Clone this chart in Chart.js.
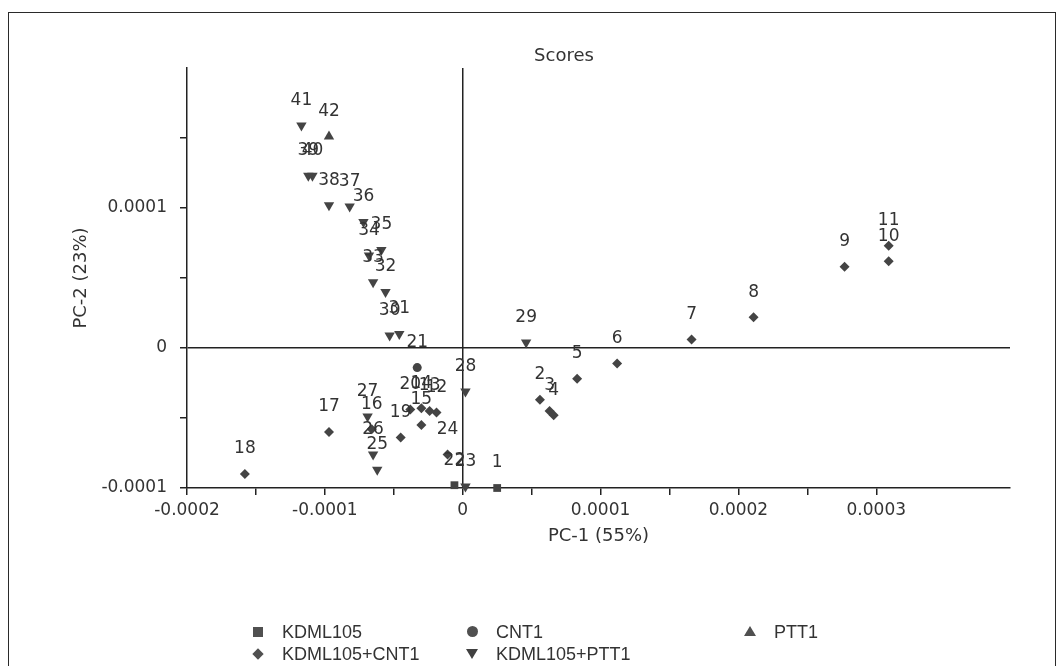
<!DOCTYPE html>
<html>
<head>
<meta charset="utf-8">
<script src="https://cdn.jsdelivr.net/npm/chart.js@4.4.1/dist/chart.umd.min.js"></script>
<style>
  body { margin: 0; background: #fff; font-family: "Liberation Sans", Arial, sans-serif; color: #333; }
  #wrap { position: relative; width: 1062px; height: 666px; overflow: hidden; }
  #frame { position: absolute; left: 8px; top: 12px; width: 1046px; height: 720px; border: 1.5px solid #2a2a2a; }
  #title { position: absolute; left: 564px; top: 44px; transform: translateX(-50%); font-family: "DejaVu Sans", sans-serif; font-size: 18px; }
  .item { position: absolute; font-size: 18px; line-height: 22px; }
  .mk { position: absolute; }
  .sq  { width: 10px; height: 10px; background: #505050; left: -29px; top: 6px; }
  .ci  { width: 11px; height: 11px; background: #505050; border-radius: 50%; left: -29px; top: 5px; }
  .tu  { width: 0; height: 0; border-left: 6px solid transparent; border-right: 6px solid transparent; border-bottom: 10px solid #505050; left: -30px; top: 5px; }
  .di  { width: 8px; height: 8px; background: #505050; transform: rotate(45deg); left: -28px; top: 7px; }
  .td  { width: 0; height: 0; border-left: 6px solid transparent; border-right: 6px solid transparent; border-top: 10px solid #404040; left: -30px; top: 6px; }
</style>
</head>
<body>
<div id="wrap">
  <canvas id="scores-chart"></canvas>
  <div id="frame"></div>
  <div id="title">Scores</div>
  <div class="item" style="left:282px; top:621px;"><span class="mk sq"></span>KDML105</div>
  <div class="item" style="left:496px; top:621px;"><span class="mk ci"></span>CNT1</div>
  <div class="item" style="left:774px; top:621px;"><span class="mk tu"></span>PTT1</div>
  <div class="item" style="left:282px; top:643px;"><span class="mk di"></span>KDML105+CNT1</div>
  <div class="item" style="left:496px; top:643px;"><span class="mk td"></span>KDML105+PTT1</div>
</div>
<script>
// sample numbers and PCA scores
const kdmlIds = [1, 22];
const kdmlPc1 = [25e-6, -6e-6];
const kdmlPc2 = [-100e-6, -98e-6];

const cntIds = [21];
const cntPc1 = [-33e-6];
const cntPc2 = [-14e-6];

const pttIds = [42];
const pttPc1 = [-97e-6];
const pttPc2 = [151e-6];

const kdmlCntIds = [2, 3, 4, 5, 6, 7, 8, 9, 10, 11, 12, 13, 14, 15, 16, 17, 18, 19, 20, 24];
const kdmlCntPc1 = [56e-6, 63e-6, 66e-6, 83e-6, 112e-6, 166e-6, 211e-6, 277e-6, 309e-6, 309e-6,
                    -19e-6, -24e-6, -30e-6, -30e-6, -66e-6, -97e-6, -158e-6, -45e-6, -38e-6, -11e-6];
const kdmlCntPc2 = [-37e-6, -45e-6, -48e-6, -22e-6, -11e-6, 6e-6, 22e-6, 58e-6, 62e-6, 73e-6,
                    -46e-6, -45e-6, -43e-6, -55e-6, -58e-6, -60e-6, -90e-6, -64e-6, -44e-6, -76e-6];

const kdmlPttIds = [23, 25, 26, 27, 28, 29, 30, 31, 32, 33, 34, 35, 36, 37, 38, 39, 40, 41];
const kdmlPttPc1 = [2e-6, -62e-6, -65e-6, -69e-6, 2e-6, 46e-6, -53e-6, -46e-6, -56e-6, -65e-6,
                    -68e-6, -59e-6, -72e-6, -82e-6, -97e-6, -112e-6, -109e-6, -117e-6];
const kdmlPttPc2 = [-99e-6, -87e-6, -76e-6, -49e-6, -31e-6, 4e-6, 9e-6, 10e-6, 40e-6, 47e-6,
                    66e-6, 70e-6, 90e-6, 101e-6, 102e-6, 123e-6, 123e-6, 159e-6];

const xMin = -0.0002, xMax = 0.000397;
const yMin = -0.0001, yMax = 0.0002;

function toPoints(xs, ys) {
  return xs.map((x, i) => ({ x: x, y: ys[i] }));
}

function onStep(v, step) {
  return Math.abs(v / step - Math.round(v / step)) < 1e-6;
}

const pointLabels = {
  id: 'pointLabels',
  afterDatasetsDraw(chart) {
    const ctx = chart.ctx;
    ctx.save();
    ctx.font = '17px "DejaVu Sans", sans-serif';
    ctx.fillStyle = '#333';
    ctx.textAlign = 'center';
    ctx.textBaseline = 'middle';
    chart.data.datasets.forEach((ds, i) => {
      chart.getDatasetMeta(i).data.forEach((pt, j) => {
        ctx.fillText(String(ds.ids[j]), pt.x, pt.y - 25);
      });
    });
    ctx.restore();
  }
};

const markColor = '#444';

function series(label, ids, xs, ys, style, radius, rotation) {
  return {
    label: label,
    ids: ids,
    data: toPoints(xs, ys),
    pointStyle: style,
    pointRadius: radius,
    pointRotation: rotation || 0,
    backgroundColor: markColor,
    borderColor: markColor,
    borderWidth: 0,
    clip: false
  };
}

const tickFont  = { family: '"DejaVu Sans", sans-serif', size: 17 };
const titleFont = { family: '"DejaVu Sans", sans-serif', size: 18 };

const ctx = document.getElementById('scores-chart').getContext('2d');
const scoresChart = new Chart(ctx, {
  type: 'scatter',
  data: {
    datasets: [
      series('KDML105', kdmlIds, kdmlPc1, kdmlPc2, 'rect', 5.5),
      series('CNT1', cntIds, cntPc1, cntPc2, 'circle', 4.5),
      series('PTT1', pttIds, pttPc1, pttPc2, 'triangle', 6),
      series('KDML105+CNT1', kdmlCntIds, kdmlCntPc1, kdmlCntPc2, 'rectRot', 5),
      series('KDML105+PTT1', kdmlPttIds, kdmlPttPc1, kdmlPttPc2, 'triangle', 6, 180)
    ]
  },
  options: {
    responsive: true,
    maintainAspectRatio: false,
    animation: false,
    layout: { padding: { left: 0, right: 52, top: 68, bottom: 110 } },
    plugins: {
      legend: { display: false },
      tooltip: { enabled: false }
    },
    scales: {
      x: {
        type: 'linear',
        min: xMin, max: xMax,
        afterFit: s => { s.height = 68; },
        border: { display: true, color: '#222', width: 1.5 },
        grid: {
          color: c => (c.tick && c.tick.value === 0) ? '#222' : 'transparent',
          lineWidth: 1.5,
          tickLength: 7,
          tickColor: c => (c.tick && onStep(c.tick.value, 5e-5) && c.tick.value < 0.00039) ? '#222' : 'transparent'
        },
        ticks: {
          stepSize: 0.00005,
          autoSkip: false,
          maxRotation: 0,
          padding: 5,
          color: '#333',
          font: tickFont,
          callback: v => (onStep(v, 1e-4) && v < 0.00039) ? String(Math.round(v * 1e4) / 1e4) : ''
        },
        title: {
          display: true,
          text: 'PC-1 (55%)',
          color: '#333',
          font: titleFont,
          padding: { top: 0, bottom: 9 }
        }
      },
      y: {
        type: 'linear',
        min: yMin, max: yMax,
        afterFit: s => { s.width = 187; },
        border: { display: true, color: '#222', width: 1.5 },
        grid: {
          color: c => (c.tick && c.tick.value === 0) ? '#222' : 'transparent',
          lineWidth: 1.5,
          tickLength: 7,
          tickColor: c => (c.tick && c.tick.value < 0.00019) ? '#222' : 'transparent'
        },
        ticks: {
          stepSize: 0.00005,
          autoSkip: false,
          padding: 13,
          color: '#333',
          font: tickFont,
          callback: v => (onStep(v, 1e-4) && v < 0.00019) ? String(Math.round(v * 1e4) / 1e4) : ''
        },
        title: {
          display: true,
          text: 'PC-2 (23%)',
          color: '#333',
          font: titleFont,
          padding: { top: 71, bottom: 0 }
        }
      }
    }
  },
  plugins: [pointLabels]
});
</script>
</body>
</html>
